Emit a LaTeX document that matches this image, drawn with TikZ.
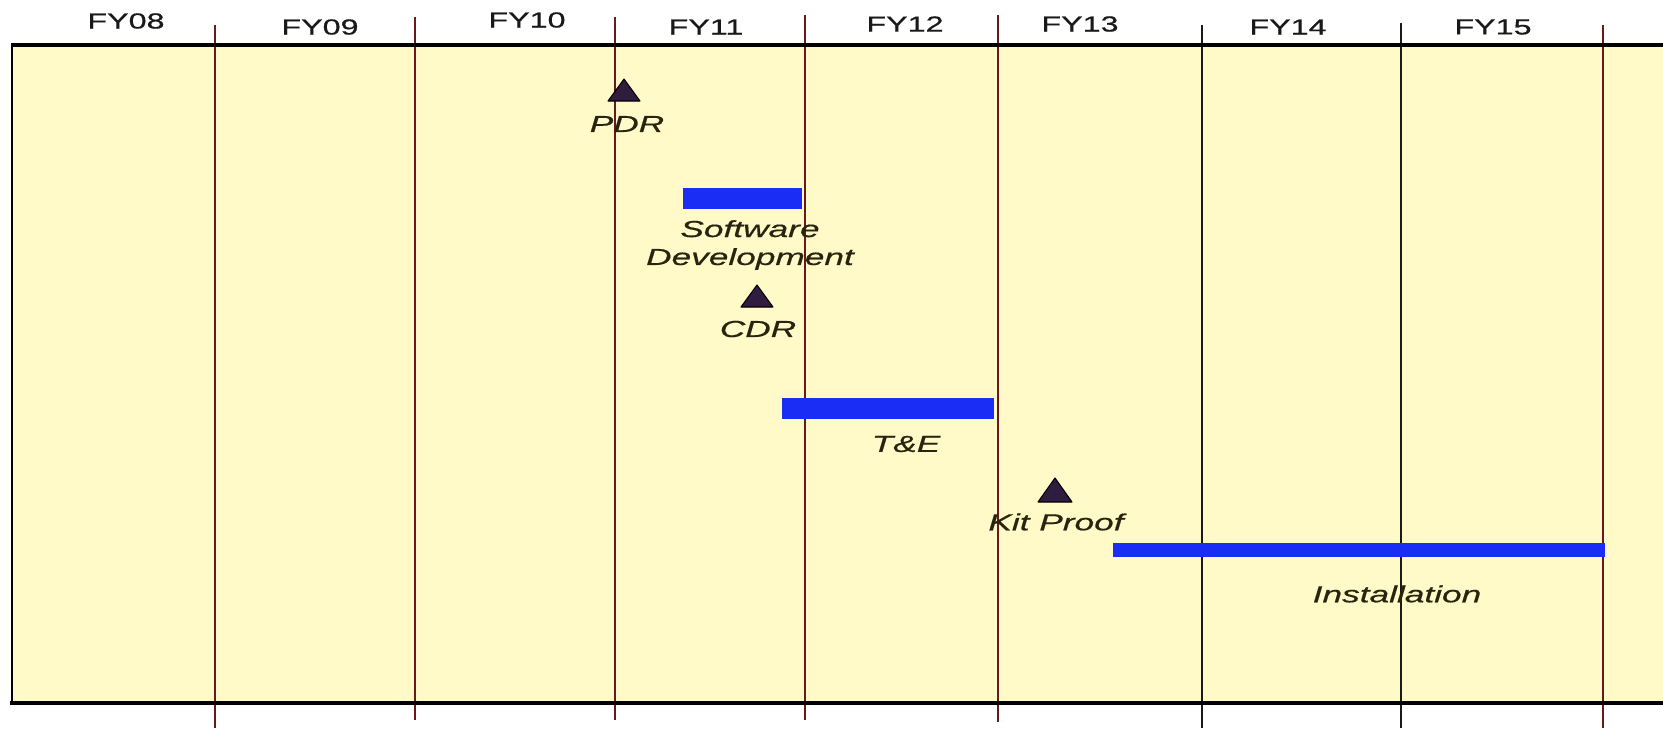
\documentclass[tikz,border=0pt]{standalone}
\usepackage{fontspec}
\setmainfont{Liberation Sans}
\newfontfamily\yearfont[FakeStretch=1.48, FakeBold=0.7]{Liberation Sans}
\newfontfamily\taskfont[FakeStretch=1.52, FakeBold=0.5]{Liberation Sans}
\usetikzlibrary{positioning}

\definecolor{panelyellow}{RGB}{255,250,200}
\definecolor{gridred}{RGB}{105,25,25}
\definecolor{barblue}{RGB}{25,45,245}
\definecolor{milestonefill}{RGB}{48,28,62}
\definecolor{labeltext}{RGB}{40,36,16}

\begin{document}
\begin{tikzpicture}[
    x=0.2mm, y=-0.2mm,
    every node/.style={inner sep=0pt},
    year/.style={font=\yearfont\fontsize{12.4}{14}\selectfont, text=black!90},
    task/.style={font=\taskfont\itshape\fontsize{13.2}{15.9}\selectfont, text=labeltext, align=center},
    divider/.style={gridred, line width=0.9pt},
    darkdivider/.style={black!90, line width=1.2pt},
    frame/.style={black, line width=2.1pt},
    taskbar/.style={fill=barblue},
    milestone/.style={fill=milestonefill, draw=black, line width=0.6pt, line join=round}
]
\useasboundingbox (0,0) rectangle (1663,728);

% ============ PANEL ============
\fill[panelyellow] (12,45) rectangle (1663,703);

% Year dividers (with ticks above and below)
\draw[divider] (215,25) -- (215,728);
\draw[divider] (415,17) -- (415,720);
\draw[divider] (615,17) -- (615,720);
\draw[divider] (805,15) -- (805,720);
\draw[divider] (998,15) -- (998,722);
\draw[darkdivider] (1202,25) -- (1202,728);
\draw[darkdivider] (1401,23) -- (1401,728);
\draw[divider] (1603,25) -- (1603,728);

% Frame
\draw[frame, line width=1.7pt] (12,703) -- (12,45);
\draw[frame] (11,45) -- (1663,45);
\draw[frame, line width=2.4pt] (10,703) -- (1663,703);

% ============ YEARS ============
\node[year] (fy08) at (126,21) {FY08};
\node[year] (fy09) at (320,27) {FY09};
\node[year] (fy10) at (527,20) {FY10};
\node[year] (fy11) at (706,27) {FY11};
\node[year] (fy12) at (905,24) {FY12};
\node[year] (fy13) at (1080,24) {FY13};
\node[year] (fy14) at (1288,27) {FY14};
\node[year] (fy15) at (1493,27) {FY15};

% ============ TASKS ============
% Software development
\fill[taskbar] (683,188) rectangle (802,209);
\node[task] (swdev) at (750,245) {Software\\Development};

% Test and evaluation
\fill[taskbar] (782,398) rectangle (994,419);
\node[task] (te) at (906,444) {T\&E};

% Installation
\fill[taskbar] (1113,543) rectangle (1605,557);
\node[task] (install) at (1397,594) {Installation};

% ============ MILESTONES ============
\filldraw[milestone] (624,79) -- ++(-16,22) -- ++(32,0) -- cycle;
\node[task] (pdr) at (627,124) {PDR};

\filldraw[milestone] (757,285) -- ++(-16,22) -- ++(32,0) -- cycle;
\node[task] (cdr) at (758,329) {CDR};

\filldraw[milestone] (1055,478) -- ++(-17,24) -- ++(34,0) -- cycle;
\node[task] (kitproof) at (1056,522) {Kit Proof};

\end{tikzpicture}
\end{document}
